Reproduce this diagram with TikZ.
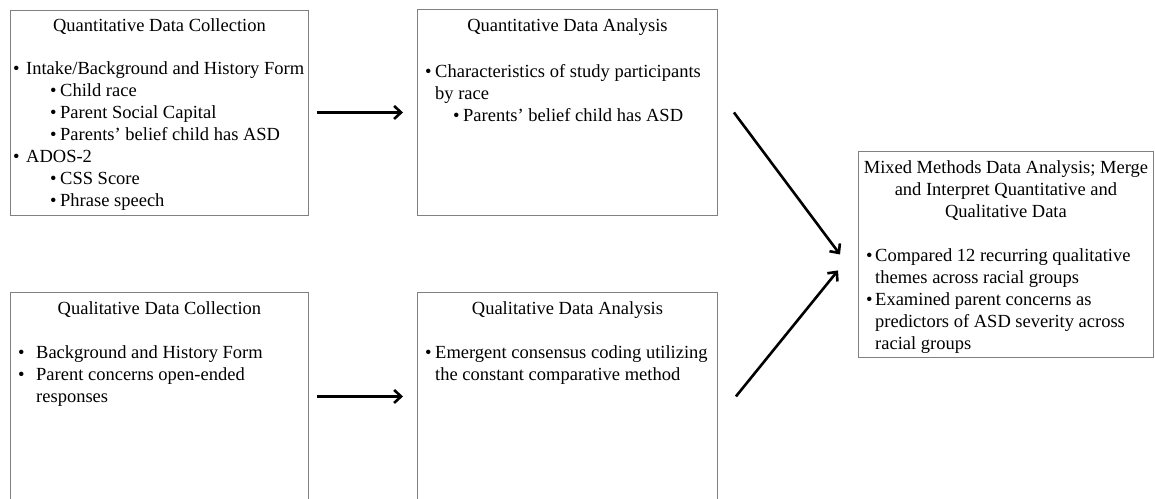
\documentclass[tikz,border=0pt]{standalone}
\usepackage{fontspec}
\setmainfont{Liberation Serif}
\usetikzlibrary{arrows.meta,positioning}

\newcommand{\bul}[1][10pt]{\makebox[#1][l]{\textbullet}}

\begin{document}
\begin{tikzpicture}[x=1pt,y=-1pt,
	font=\fontsize{18.5}{22}\selectfont,
	box/.style={draw=gray,line width=0.9pt,anchor=north west,inner sep=0pt},
	head/.style={anchor=north,align=center,inner sep=0pt},
	items/.style={anchor=north west,align=left,inner sep=0pt},
	flow/.style={line width=2.6pt,-{Straight Barb[length=7pt,width=13pt]}}]
	\useasboundingbox (0,0) rectangle (1155,498);
	\clip (0,0) rectangle (1155,498);
	% boxes
	\node[box,minimum width=298pt,minimum height=205pt] (qncol) at (10,9.5) {};
	\node[box,minimum width=300pt,minimum height=206pt] (qnana) at (417,9) {};
	\node[box,minimum width=298pt,minimum height=208pt] (qlcol) at (10,292) {};
	\node[box,minimum width=300pt,minimum height=208pt] (qlana) at (417,292) {};
	\node[box,minimum width=295pt,minimum height=206pt] (mixed) at (858,151) {};
	% titles
	\node[head] (qncolT) at ([yshift=-9pt]qncol.north) {Quantitative Data Collection};
	\node[head] (qnanaT) at ([yshift=-9.4pt]qnana.north) {Quantitative Data Analysis};
	\node[head] (qlcolT) at ([yshift=-9.4pt]qlcol.north) {Qualitative Data Collection};
	\node[head] (qlanaT) at ([yshift=-9.4pt]qlana.north) {Qualitative Data Analysis};
	\node[head] (mixedT) at ([yshift=-9.4pt]mixed.north) {Mixed Methods Data Analysis; Merge\\and Interpret Quantitative and\\Qualitative Data};
	% lists
	\node[items] (qncolL) at ([xshift=3pt,yshift=-52pt]qncol.north west) {\bul[13pt]Intake/Background and History Form\\
		\hspace*{37pt}\bul Child race\\
		\hspace*{37pt}\bul Parent Social Capital\\
		\hspace*{37pt}\bul Parents’ belief child has ASD\\
		\bul[13pt]ADOS-2\\
		\hspace*{37pt}\bul CSS Score\\
		\hspace*{37pt}\bul Phrase speech};
	\node[items] (qnanaL) at ([xshift=8pt,yshift=-55pt]qnana.north west) {\bul Characteristics of study participants\\
		\hspace*{10pt}by race\\
		\hspace*{28pt}\bul Parents’ belief child has ASD};
	\node[items] (qlcolL) at ([xshift=8pt,yshift=-53.4pt]qlcol.north west) {\bul[18pt]Background and History Form\\
		\bul[18pt]Parent concerns open-ended\\
		\hspace*{18pt}responses};
	\node[items] (qlanaL) at ([xshift=8pt,yshift=-53.4pt]qlana.north west) {\bul Emergent consensus coding utilizing\\
		\hspace*{10pt}the constant comparative method};
	\node[items] (mixedL) at ([xshift=8pt,yshift=-97.4pt]mixed.north west) {\bul[9pt]Compared 12 recurring qualitative\\
		\hspace*{9pt}themes across racial groups\\
		\bul[9pt]Examined parent concerns as\\
		\hspace*{9pt}predictors of ASD severity across\\
		\hspace*{9pt}racial groups};
	% arrows
	\draw[flow] ([xshift=8pt]qncol.east) -- ([xshift=-14pt]qnana.west);
	\draw[flow] ([xshift=8pt]qlcol.east) -- ([xshift=-14pt]qlana.west);
	\draw[flow] ([xshift=16pt]qnana.east) -- ([xshift=-18pt]mixed.west);
	\draw[flow] ([xshift=18pt]qlana.east) -- ([xshift=-20pt,yshift=-16pt]mixed.west);
\end{tikzpicture}
\end{document}
